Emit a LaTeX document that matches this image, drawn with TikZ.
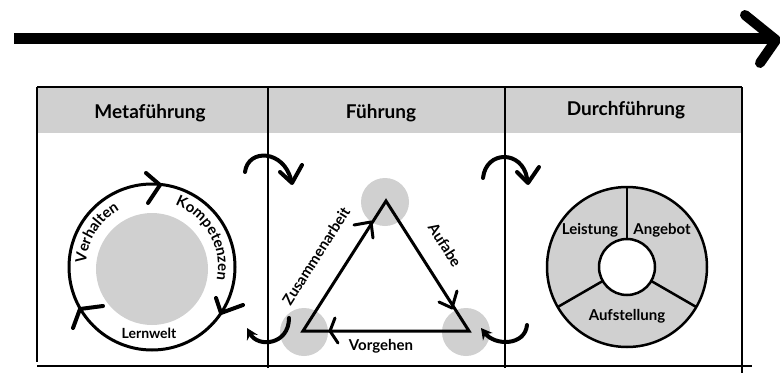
\documentclass[tikz,border=0pt]{standalone}
\usepackage{fontspec}
\setmainfont{Lato}
\usetikzlibrary{arrows.meta,decorations.text}
\definecolor{panel}{HTML}{D0D0D0}
\newcommand{\titlefont}{\bfseries\fontsize{19}{22}\selectfont}
\newcommand{\lblfont}{\bfseries\fontsize{15}{17}\selectfont}
\newcommand{\smallfont}{\bfseries\fontsize{14}{16}\selectfont}
\tikzset{
  frame/.style={line width=2.2pt},
  ring/.style={line width=3pt},
  barb/.style={line width=4pt, line cap=round, line join=round},
  thinbarb/.style={line width=3pt, line cap=round, line join=round},
  title/.style={font=\titlefont, anchor=base, inner sep=0pt},
  lbl/.style={font=\lblfont, inner sep=0pt},
  swing/.style={line width=4pt, line cap=round},
  backswing/.style={line width=4pt, line cap=round, -{Stealth[length=11pt,width=12pt]}},
  arctext/.style={decorate, decoration={text along path, text align=center, text={|\lblfont|#1}}}
}
\begin{document}
\begin{tikzpicture}[x=1pt,y=1pt]
\useasboundingbox (0,0) rectangle (780,-375);

% timeline arrow
\coordinate (tstart) at (14,-38);
\coordinate (tend) at (774,-38);
\draw[line width=11pt] (tstart) -- (tend);
\draw[line width=10pt, line cap=round, line join=round] (745,-15) -- (776,-40) -- (760,-63);

% table: header band, frame and column dividers
\fill[panel] (37,-87) rectangle (742,-133);
\coordinate (c0) at (37,-87);
\coordinate (c1) at (268,-87);
\coordinate (c2) at (505,-87);
\coordinate (c3) at (742,-87);
\draw[frame] (c0) -- (c3);
\draw[frame] (c0) -- (37,-362);
\draw[frame] (c1) -- (268,-368);
\draw[frame] (c2) -- (505,-368);
\draw[frame] (c3) -- (742,-373);
\draw[frame] (37,-366) -- (752,-366);

\node[title] (t1) at (150,-118) {Metaführung};
\node[title] (t2) at (381,-118) {Führung};
\node[title] (t3) at (626,-115) {Durchführung};

% --- Metaführung: learning cycle
\coordinate (mc) at (152,-267);
\fill[panel] (152,-269) circle[radius=56];
\draw[ring] (mc) circle[radius=83];
\draw[barb] (146,-173) -- (160,-185) -- (148,-203);
\draw[barb] (216,-298) -- (221,-313) -- (243,-305);
\draw[barb] (103,-306) -- (80,-309) -- (73,-328);
\path[arctext=Verhalten] (mc) ++(196:66) arc[start angle=196, end angle=100, radius=66];
\path[arctext=Kompetenzen] (mc) ++(76:66) arc[start angle=76, end angle=-18, radius=66];
\node[font=\smallfont, inner sep=0pt] (lw) at (149,-333) {Lernwelt};

% --- Führung: triangle
\coordinate (A) at (386,-201);
\coordinate (B) at (303,-331);
\coordinate (C) at (469,-331);
\fill[panel] (385,-202) circle[radius=24];
\fill[panel] (304,-332) circle[radius=24];
\fill[panel] (466,-332) circle[radius=24];
\draw[line width=3pt, line join=miter] (A) -- (C) -- (B) -- cycle;
\draw[thinbarb] (354,-225) -- (371,-222) -- (373,-238);
\draw[thinbarb] (439,-302) -- (452,-308) -- (457,-291);
\draw[thinbarb] (335,-318) -- (330,-331) -- (338,-343);
\node[lbl, rotate=57.6] (za) at (316,-256) {Zusammenarbeit};
\node[lbl, rotate=-57.6] (af) at (445,-245) {Aufabe};
\node[lbl] (vg) at (381,-346) {Vorgehen};

% --- transitions across the dividers
\coordinate (s1) at (245,-172);
\coordinate (e1) at (291,-180);
\draw[swing] (s1) .. controls (248,-148) and (284,-150) .. (e1);
\draw[barb] (280,-172) -- (292,-183) -- (302,-165);

\coordinate (s2) at (289,-318);
\coordinate (e2) at (247,-328);
\draw[backswing] (s2) .. controls (289,-345) and (258,-348) .. (e2);

\coordinate (s3) at (483,-178);
\coordinate (e3) at (527,-178);
\draw[swing] (s3) .. controls (486,-150) and (522,-150) .. (e3);
\draw[barb] (517,-172) -- (528,-183) -- (539,-167);

\coordinate (s4) at (527,-325);
\coordinate (e4) at (481,-328);
\draw[backswing] (s4) .. controls (525,-346) and (495,-346) .. (e4);

% --- Durchführung: segmented ring
\coordinate (dc) at (627,-267);
\fill[panel] (dc) circle[radius=80];
\draw[line width=2.5pt] (dc) circle[radius=80];
\draw[line width=2.5pt, fill=white] (dc) circle[radius=28];
\foreach \a in {90,210,330}
  \draw[line width=2.5pt] (dc) ++(\a:28) -- ++(\a:52);
\node[lbl] (ls) at (590,-230) {Leistung};
\node[lbl] (ag) at (662,-230) {Angebot};
\node[lbl] (au) at (627,-316) {Aufstellung};
\end{tikzpicture}
\end{document}
